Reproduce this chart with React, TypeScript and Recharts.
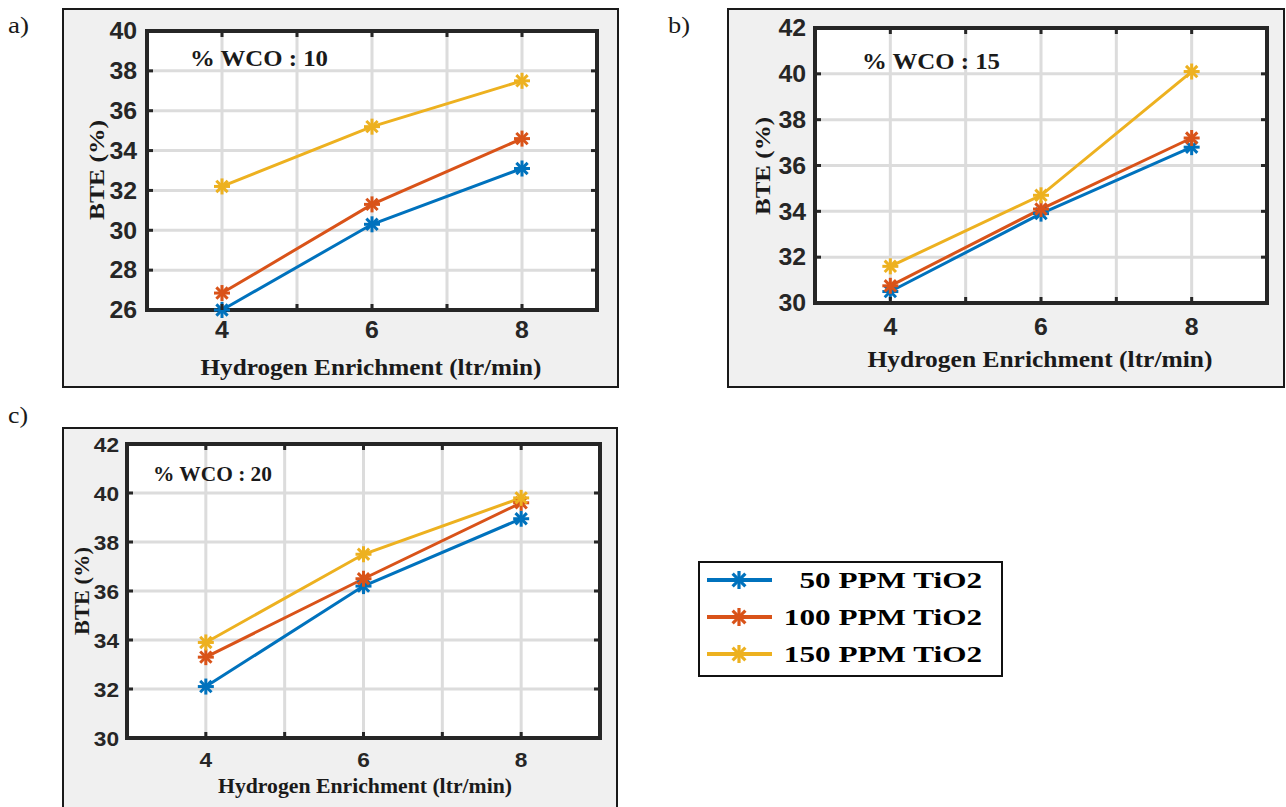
import React from 'react';
import { LineChart, Line, XAxis, YAxis, CartesianGrid, ReferenceArea } from 'recharts';

// ---------- data ----------
const hydrogenFlow = [4, 6, 8];
const xGridTicks = [3, 4, 5, 6, 7, 8, 9];
const xLabelledTicks = [4, 6, 8];

const seriesKeys = ['p50', 'p100', 'p150'];
const seriesNames = ['50 PPM TiO2', '100 PPM TiO2', '150 PPM TiO2'];
const seriesColors = ['#0072BD', '#D95319', '#EDB120'];

// % WCO : 10
const wco10_p50 = [26.0, 30.3, 33.1];
const wco10_p100 = [26.85, 31.3, 34.6];
const wco10_p150 = [32.2, 35.2, 37.5];
// % WCO : 15
const wco15_p50 = [30.5, 33.9, 36.8];
const wco15_p100 = [30.75, 34.1, 37.2];
const wco15_p150 = [31.6, 34.7, 40.1];
// % WCO : 20
const wco20_p50 = [32.1, 36.2, 38.95];
const wco20_p100 = [33.3, 36.5, 39.6];
const wco20_p150 = [33.9, 37.5, 39.8];

const yTicksA = [26, 28, 30, 32, 34, 36, 38, 40];
const yTicksBC = [30, 32, 34, 36, 38, 40, 42];

const buildRows = (a: number[], b: number[], c: number[]) =>
  hydrogenFlow.map((h, i) => ({ h, p50: a[i], p100: b[i], p150: c[i] }));

const rowsA = buildRows(wco10_p50, wco10_p100, wco10_p150);
const rowsB = buildRows(wco15_p50, wco15_p100, wco15_p150);
const rowsC = buildRows(wco20_p50, wco20_p100, wco20_p150);

// ---------- helpers ----------
const AXIS = '#262626';
const SERIF = '"Liberation Serif", "Times New Roman", serif';
const SANS = '"Liberation Sans", Arial, sans-serif';

const Asterisk = ({ cx, cy, color, r = 8, sw = 3 }: any) => {
  const d = r * 0.7071;
  return (
    <g stroke={color} strokeWidth={sw} strokeLinecap="butt">
      <line x1={cx - r} y1={cy} x2={cx + r} y2={cy} />
      <line x1={cx} y1={cy - r} x2={cx} y2={cy + r} />
      <line x1={cx - d} y1={cy - d} x2={cx + d} y2={cy + d} />
      <line x1={cx - d} y1={cy + d} x2={cx + d} y2={cy - d} />
    </g>
  );
};

type Rect = { x: number; y: number; w: number; h: number };

const makeXTick = (fontSize: number, dy: number, pr: Rect) => (props: any) => {
  const { x, y, payload } = props;
  const mark = (
    <>
      <line x1={x} y1={pr.y + pr.h} x2={x} y2={pr.y + pr.h - 6} stroke={AXIS} strokeWidth={3} />
      <line x1={x} y1={pr.y} x2={x} y2={pr.y + 6} stroke={AXIS} strokeWidth={3} />
    </>
  );
  if (!xLabelledTicks.includes(payload.value)) return <g>{mark}</g>;
  return (
    <g>
      {mark}
      <text
        transform={`translate(${x},${y + dy}) scale(1.08,1)`}
        textAnchor="middle"
        fontFamily={SANS}
        fontWeight={700}
        fontSize={fontSize}
        fill={AXIS}
      >
        {payload.value}
      </text>
    </g>
  );
};

const makeYTick = (fontSize: number, dx: number, pr: Rect) => (props: any) => {
  const { x, y, payload } = props;
  return (
    <g>
      <line x1={pr.x} y1={y} x2={pr.x + 6} y2={y} stroke={AXIS} strokeWidth={3} />
      <line x1={pr.x + pr.w} y1={y} x2={pr.x + pr.w - 6} y2={y} stroke={AXIS} strokeWidth={3} />
      <text
        transform={`translate(${x - dx},${y + fontSize * 0.36}) scale(1.08,1)`}
        textAnchor="end"
        fontFamily={SANS}
        fontWeight={700}
        fontSize={fontSize}
        fill={AXIS}
      >
        {payload.value}
      </text>
    </g>
  );
};

type PanelProps = {
  box: { l: number; t: number; w: number; h: number };
  plot: Rect;
  rows: any[];
  yDomain: [number, number];
  yTicks: number[];
  tickFont: number;
  xTickDy: number;
  yTickDx: number;
};

const Panel = ({ box, plot, rows, yDomain, yTicks, tickFont, xTickDy, yTickDx }: PanelProps) => {
  const yAxisW = 40;
  const xAxisH = 30;
  const margin = {
    top: plot.y - box.t,
    left: plot.x - box.l - yAxisW,
    right: box.l + box.w - (plot.x + plot.w),
    bottom: box.t + box.h - (plot.y + plot.h) - xAxisH,
  };
  // plot rect in chart-local coordinates
  const pr: Rect = { x: plot.x - box.l, y: plot.y - box.t, w: plot.w, h: plot.h };
  return (
    <>
      <div
        style={{
          position: 'absolute',
          left: box.l,
          top: box.t,
          width: box.w,
          height: box.h,
          boxSizing: 'border-box',
          border: '2px solid #1a1a1a',
          background: '#f0f0f0',
        }}
      />
      <div style={{ position: 'absolute', left: box.l, top: box.t }}>
        <LineChart width={box.w} height={box.h} data={rows} margin={margin}>
          <CartesianGrid stroke="#dcdcdc" strokeWidth={3} fill="#ffffff" fillOpacity={1} />
          <XAxis
            dataKey="h"
            type="number"
            domain={[3, 9]}
            ticks={xGridTicks}
            interval={0}
            axisLine={false}
            tickLine={false}
            height={xAxisH}
            tick={makeXTick(tickFont, xTickDy, pr)}
          />
          <YAxis
            type="number"
            domain={yDomain}
            ticks={yTicks}
            interval={0}
            axisLine={false}
            tickLine={false}
            width={yAxisW}
            tick={makeYTick(tickFont, yTickDx, pr)}
          />
          <ReferenceArea
            x1={3}
            x2={9}
            y1={yDomain[0]}
            y2={yDomain[1]}
            fill="none"
            fillOpacity={0}
            stroke={AXIS}
            strokeWidth={4}
            ifOverflow="visible"
          />
          {seriesKeys.map((k, i) => (
            <Line
              key={k}
              dataKey={k}
              name={seriesNames[i]}
              type="linear"
              stroke={seriesColors[i]}
              strokeWidth={3}
              isAnimationActive={false}
              dot={(p: any) => <Asterisk key={`${k}-${p.index}`} cx={p.cx} cy={p.cy} color={seriesColors[i]} />}
              activeDot={false}
            />
          ))}
        </LineChart>
      </div>
    </>
  );
};

// stretched text helper (SVG)
const SText = ({ x, y, size, len, children, rotate = false, anchor = 'middle', weight = 700 }: any) => (
  <text
    x={0}
    y={0}
    transform={`translate(${x},${y})${rotate ? ' rotate(-90)' : ''}`}
    textAnchor={anchor}
    dominantBaseline="central"
    fontFamily={SERIF}
    fontWeight={weight}
    fontSize={size}
    fill="#1a1a1a"
    textLength={len}
    lengthAdjust="spacingAndGlyphs"
  >
    {children}
  </text>
);

const Legend = () => (
  <div
    style={{
      position: 'absolute',
      left: 698,
      top: 561,
      width: 305,
      height: 116,
      boxSizing: 'border-box',
      border: '2px solid #111',
      background: '#fff',
    }}
  >
    <svg width={301} height={112} style={{ position: 'absolute', left: 0, top: 0 }}>
      {seriesNames.map((name, i) => {
        const cy = 17 + i * 37;
        return (
          <g key={name}>
            <line x1={7} y1={cy} x2={72} y2={cy} stroke={seriesColors[i]} strokeWidth={4} />
            <Asterisk cx={39} cy={cy} color={seriesColors[i]} r={9} sw={3.2} />
            <text
              transform={`translate(282,${cy}) scale(1.3,1)`}
              textAnchor="end"
              dominantBaseline="central"
              fontFamily={SERIF}
              fontWeight={700}
              fontSize={24}
              fill="#000"
            >
              {name}
            </text>
          </g>
        );
      })}
    </svg>
  </div>
);

export default function App() {
  return (
    <div
      style={{
        position: 'absolute',
        left: 0,
        top: 0,
        width: 1286,
        height: 807,
        overflow: 'hidden',
        background: '#fff',
      }}
    >
      <Panel
        box={{ l: 62, t: 8, w: 557, h: 380 }}
        plot={{ x: 147, y: 31, w: 450, h: 279 }}
        rows={rowsA}
        yDomain={[26, 40]}
        yTicks={yTicksA}
        tickFont={23}
        xTickDy={20}
        yTickDx={2}
      />
      <Panel
        box={{ l: 727, t: 8, w: 558, h: 380 }}
        plot={{ x: 815, y: 28, w: 452, h: 275 }}
        rows={rowsB}
        yDomain={[30, 42]}
        yTicks={yTicksBC}
        tickFont={23}
        xTickDy={24}
        yTickDx={1}
      />
      <Panel
        box={{ l: 62, t: 427, w: 556, h: 390 }}
        plot={{ x: 127, y: 444, w: 473, h: 294 }}
        rows={rowsC}
        yDomain={[30, 42]}
        yTicks={yTicksBC}
        tickFont={21}
        xTickDy={21}
        yTickDx={0}
      />
      <Legend />
      <svg
        width={1286}
        height={807}
        style={{ position: 'absolute', left: 0, top: 0, pointerEvents: 'none' }}
      >
        <SText x={8} y={25} size={24} weight={400} anchor="start" len={21}>a)</SText>
        <SText x={668} y={25} size={24} weight={400} anchor="start" len={22}>b)</SText>
        <SText x={8} y={415} size={24} weight={400} anchor="start" len={20}>c)</SText>

        <SText x={190} y={58} size={23} anchor="start" len={138}>% WCO : 10</SText>
        <SText x={862} y={61} size={23} anchor="start" len={138}>% WCO : 15</SText>
        <SText x={153} y={474} size={20} anchor="start" len={119}>% WCO : 20</SText>

        <SText x={371} y={367} size={23} len={341}>Hydrogen Enrichment (ltr/min)</SText>
        <SText x={1040} y={359} size={23} len={345}>Hydrogen Enrichment (ltr/min)</SText>
        <SText x={365} y={786} size={20} len={294}>Hydrogen Enrichment (ltr/min)</SText>

        <SText x={96} y={170} size={22} len={100} rotate>BTE (%)</SText>
        <SText x={762} y={166} size={22} len={98} rotate>BTE (%)</SText>
        <SText x={82} y={591} size={20} len={88} rotate>BTE (%)</SText>
      </svg>
    </div>
  );
}
